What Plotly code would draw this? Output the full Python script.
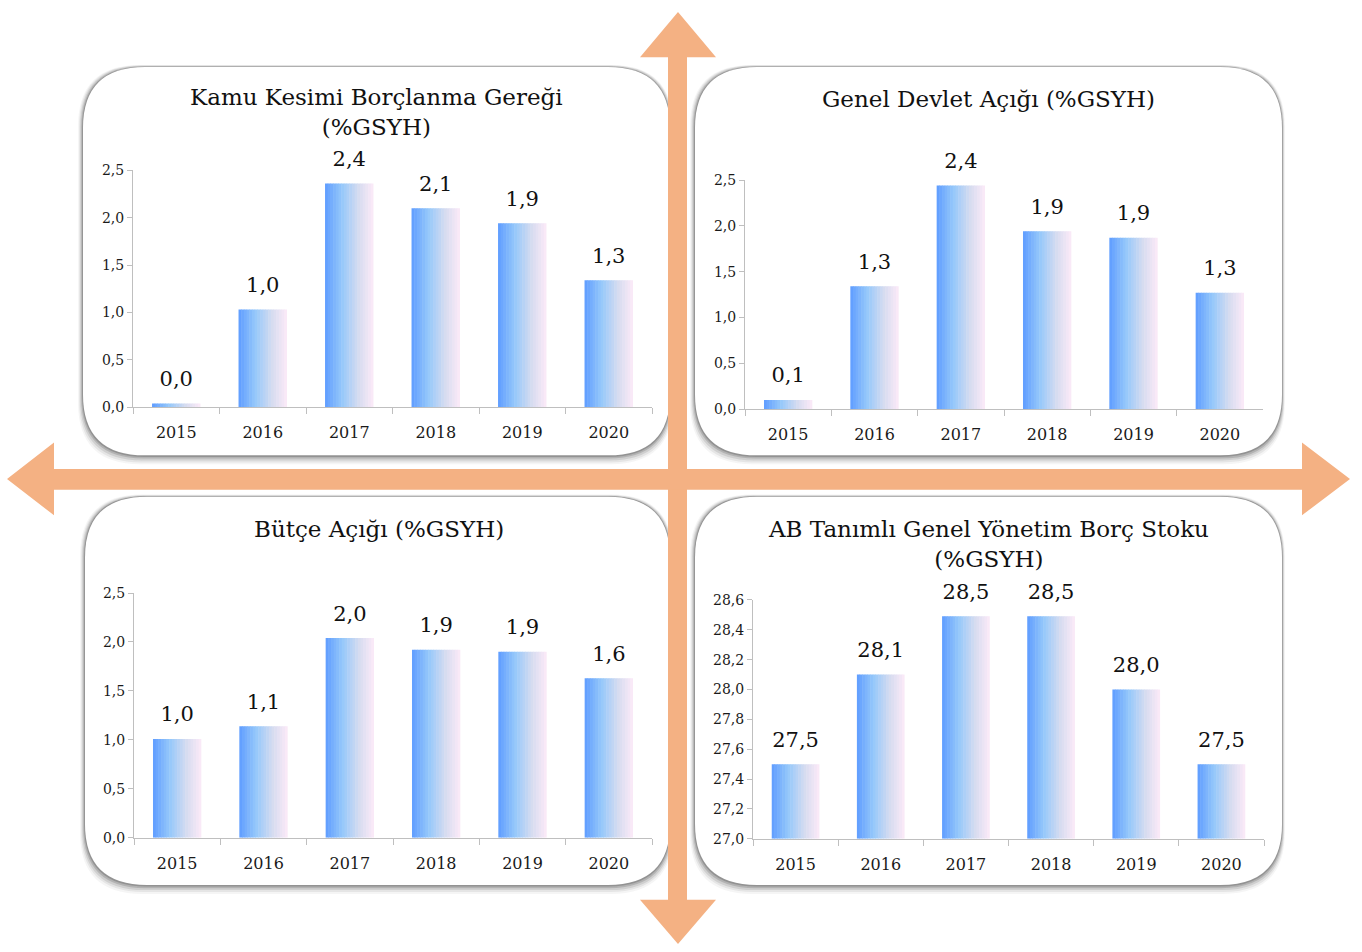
import plotly.graph_objects as go

W, H = 1362, 952

years = ["2015", "2016", "2017", "2018", "2019", "2020"]
kkbg = [0.04, 1.03, 2.36, 2.10, 1.94, 1.34]          # Kamu Kesimi Borçlanma Gereği
gda = [0.10, 1.34, 2.44, 1.94, 1.87, 1.27]           # Genel Devlet Açığı
butce = [1.01, 1.14, 2.04, 1.92, 1.90, 1.63]         # Bütçe Açığı
borc = [27.5, 28.1, 28.49, 28.49, 28.0, 27.5]        # AB Tanımlı Genel Yönetim Borç Stoku

titles = ["Kamu Kesimi Borçlanma Gereği<br>(%GSYH)",
          "Genel Devlet Açığı (%GSYH)",
          "Bütçe Açığı (%GSYH)",
          "AB Tanımlı Genel Yönetim Borç Stoku<br>(%GSYH)"]

FONT = "DejaVu Serif"

def px(x):
    return x / W

def py(y):
    return 1 - y / H

panels = [(83, 60, 670, 455), (695, 60, 1282, 455),
          (85, 497, 670, 892), (695, 497, 1282, 892)]
areas = [(133, 652, 165, 406), (745, 1263, 175, 408),
         (134, 652, 595, 844), (753, 1264, 602, 845)]
yranges = [[0, 2.5], [0, 2.5], [0, 2.5], [27.0, 28.6]]
dticks = [0.5, 0.5, 0.5, 0.2]
title_pos = [(376, 106), (988, 93), (379, 530), (988, 545)]
series = [kkbg, gda, butce, borc]

stops = [(0.0, (95, 157, 255)), (0.35, (150, 200, 250)),
         (0.7, (215, 220, 240)), (1.0, (252, 234, 248))]

def grad(t):
    for (t0, c0), (t1, c1) in zip(stops[:-1], stops[1:]):
        if t <= t1:
            f = (t - t0) / (t1 - t0)
            return "rgb(%d,%d,%d)" % tuple(round(a + (b - a) * f) for a, b in zip(c0, c1))
    return "rgb(%d,%d,%d)" % stops[-1][1]

fig = go.Figure()
N = 18
BW = 0.56
for k, vals in enumerate(series):
    xa = "x" if k == 0 else "x%d" % (k + 1)
    ya = "y" if k == 0 else "y%d" % (k + 1)
    base = yranges[k][0]
    for i in range(N):
        fig.add_trace(go.Bar(
            x=years, y=[v - base for v in vals], base=base,
            offset=-BW / 2 + i * BW / N, width=BW / N * 1.2 if i < N - 1 else BW / N,
            marker=dict(color=grad((i + 0.5) / N), line=dict(width=0)),
            xaxis=xa, yaxis=ya, showlegend=False, hoverinfo="skip"))
    fig.add_trace(go.Scatter(
        x=years, y=vals, mode="markers+text", texttemplate="%{y:.1f}",
        textposition="top center", cliponaxis=False,
        marker=dict(size=18, color="rgba(0,0,0,0)"),
        textfont=dict(family=FONT, size=21, color="#111111"),
        xaxis=xa, yaxis=ya, showlegend=False, hoverinfo="skip"))

layout = dict(width=W, height=H, margin=dict(l=0, r=0, t=0, b=0),
              paper_bgcolor="white", plot_bgcolor="rgba(0,0,0,0)",
              barmode="overlay", separators=",.", showlegend=False)

for k in range(4):
    x0, x1, yt, yb = areas[k]
    sx = "xaxis" if k == 0 else "xaxis%d" % (k + 1)
    sy = "yaxis" if k == 0 else "yaxis%d" % (k + 1)
    ya = "y" if k == 0 else "y%d" % (k + 1)
    xa = "x" if k == 0 else "x%d" % (k + 1)
    layout[sx] = dict(domain=[px(x0), px(x1)], anchor=ya, type="category",
                      range=[-0.5, 5.5], showline=True, linecolor="#BFBFBF",
                      linewidth=1, ticks="outside", tickson="boundaries",
                      ticklen=6, tickcolor="#BFBFBF", showgrid=False,
                      ticklabelstandoff=11,
                      tickfont=dict(family=FONT, size=16, color="#1a1a1a"),
                      fixedrange=True)
    layout[sy] = dict(domain=[py(yb), py(yt)], anchor=xa, range=yranges[k],
                      dtick=dticks[k], tick0=yranges[k][0], tickformat=".1f",
                      showline=True, linecolor="#BFBFBF", linewidth=1,
                      ticks="outside", ticklen=5, tickcolor="#BFBFBF",
                      showgrid=False, zeroline=False,
                      tickfont=dict(family=FONT, size=14, color="#1a1a1a"),
                      fixedrange=True)

def rrect(x0, y0, x1, y1, r):
    X0, X1 = px(x0), px(x1)
    Y0, Y1 = py(y0), py(y1)
    rx, ry = r / W, r / H
    return ("M %f,%f L %f,%f Q %f,%f %f,%f L %f,%f Q %f,%f %f,%f "
            "L %f,%f Q %f,%f %f,%f L %f,%f Q %f,%f %f,%f Z") % (
        X0 + rx, Y0, X1 - rx, Y0, X1, Y0, X1, Y0 - ry,
        X1, Y1 + ry, X1, Y1, X1 - rx, Y1,
        X0 + rx, Y1, X0, Y1, X0, Y1 + ry,
        X0, Y0 - ry, X0, Y0, X0 + rx, Y0)

shapes = []
R = 62
for (x0, y0, x1, y1) in panels:
    for s, op in [(7, 0.05), (5.5, 0.08), (4, 0.12), (2.5, 0.18), (1.2, 0.25)]:
        shapes.append(dict(type="path", xref="paper", yref="paper", layer="below",
                           path=rrect(x0 - s * 0.7, y0 - s * 0.3, x1 + s * 0.4, y1 + s * 1.3, R),
                           fillcolor="rgba(50,50,50,%f)" % op, line=dict(width=0)))
    shapes.append(dict(type="path", xref="paper", yref="paper", layer="below",
                       path=rrect(x0, y0, x1, y1, R), fillcolor="white",
                       line=dict(width=0)))

ORANGE = "#F4B183"
def poly(pts):
    return "M " + " L ".join("%f,%f" % (px(a), py(b)) for a, b in pts) + " Z"

shapes.append(dict(type="path", xref="paper", yref="paper", layer="below",
                   path=poly([(678, 4), (716, 50), (687, 50), (687, 907), (716, 907),
                              (678, 952), (640, 907), (668, 907), (668, 50), (640, 50)]),
                   fillcolor=ORANGE, line=dict(width=0)))
shapes.append(dict(type="path", xref="paper", yref="paper", layer="below",
                   path=poly([(7, 479), (54, 442), (54, 469), (1302, 469), (1302, 442),
                              (1350, 479), (1302, 516), (1302, 490), (54, 490), (54, 516)]),
                   fillcolor=ORANGE, line=dict(width=0)))
layout["shapes"] = shapes

annotations = []
for k in range(4):
    tx, ty = title_pos[k]
    annotations.append(dict(x=px(tx), y=py(ty), xref="paper", yref="paper",
                            text=titles[k], showarrow=False,
                            font=dict(family=FONT, size=23, color="#111111"),
                            xanchor="center", yanchor="middle", align="center"))
layout["annotations"] = annotations

fig.update_layout(**layout)
post = "document.body.style.margin='0';"
fig.write_html("out.html", config={"displayModeBar": False}, post_script=post)
